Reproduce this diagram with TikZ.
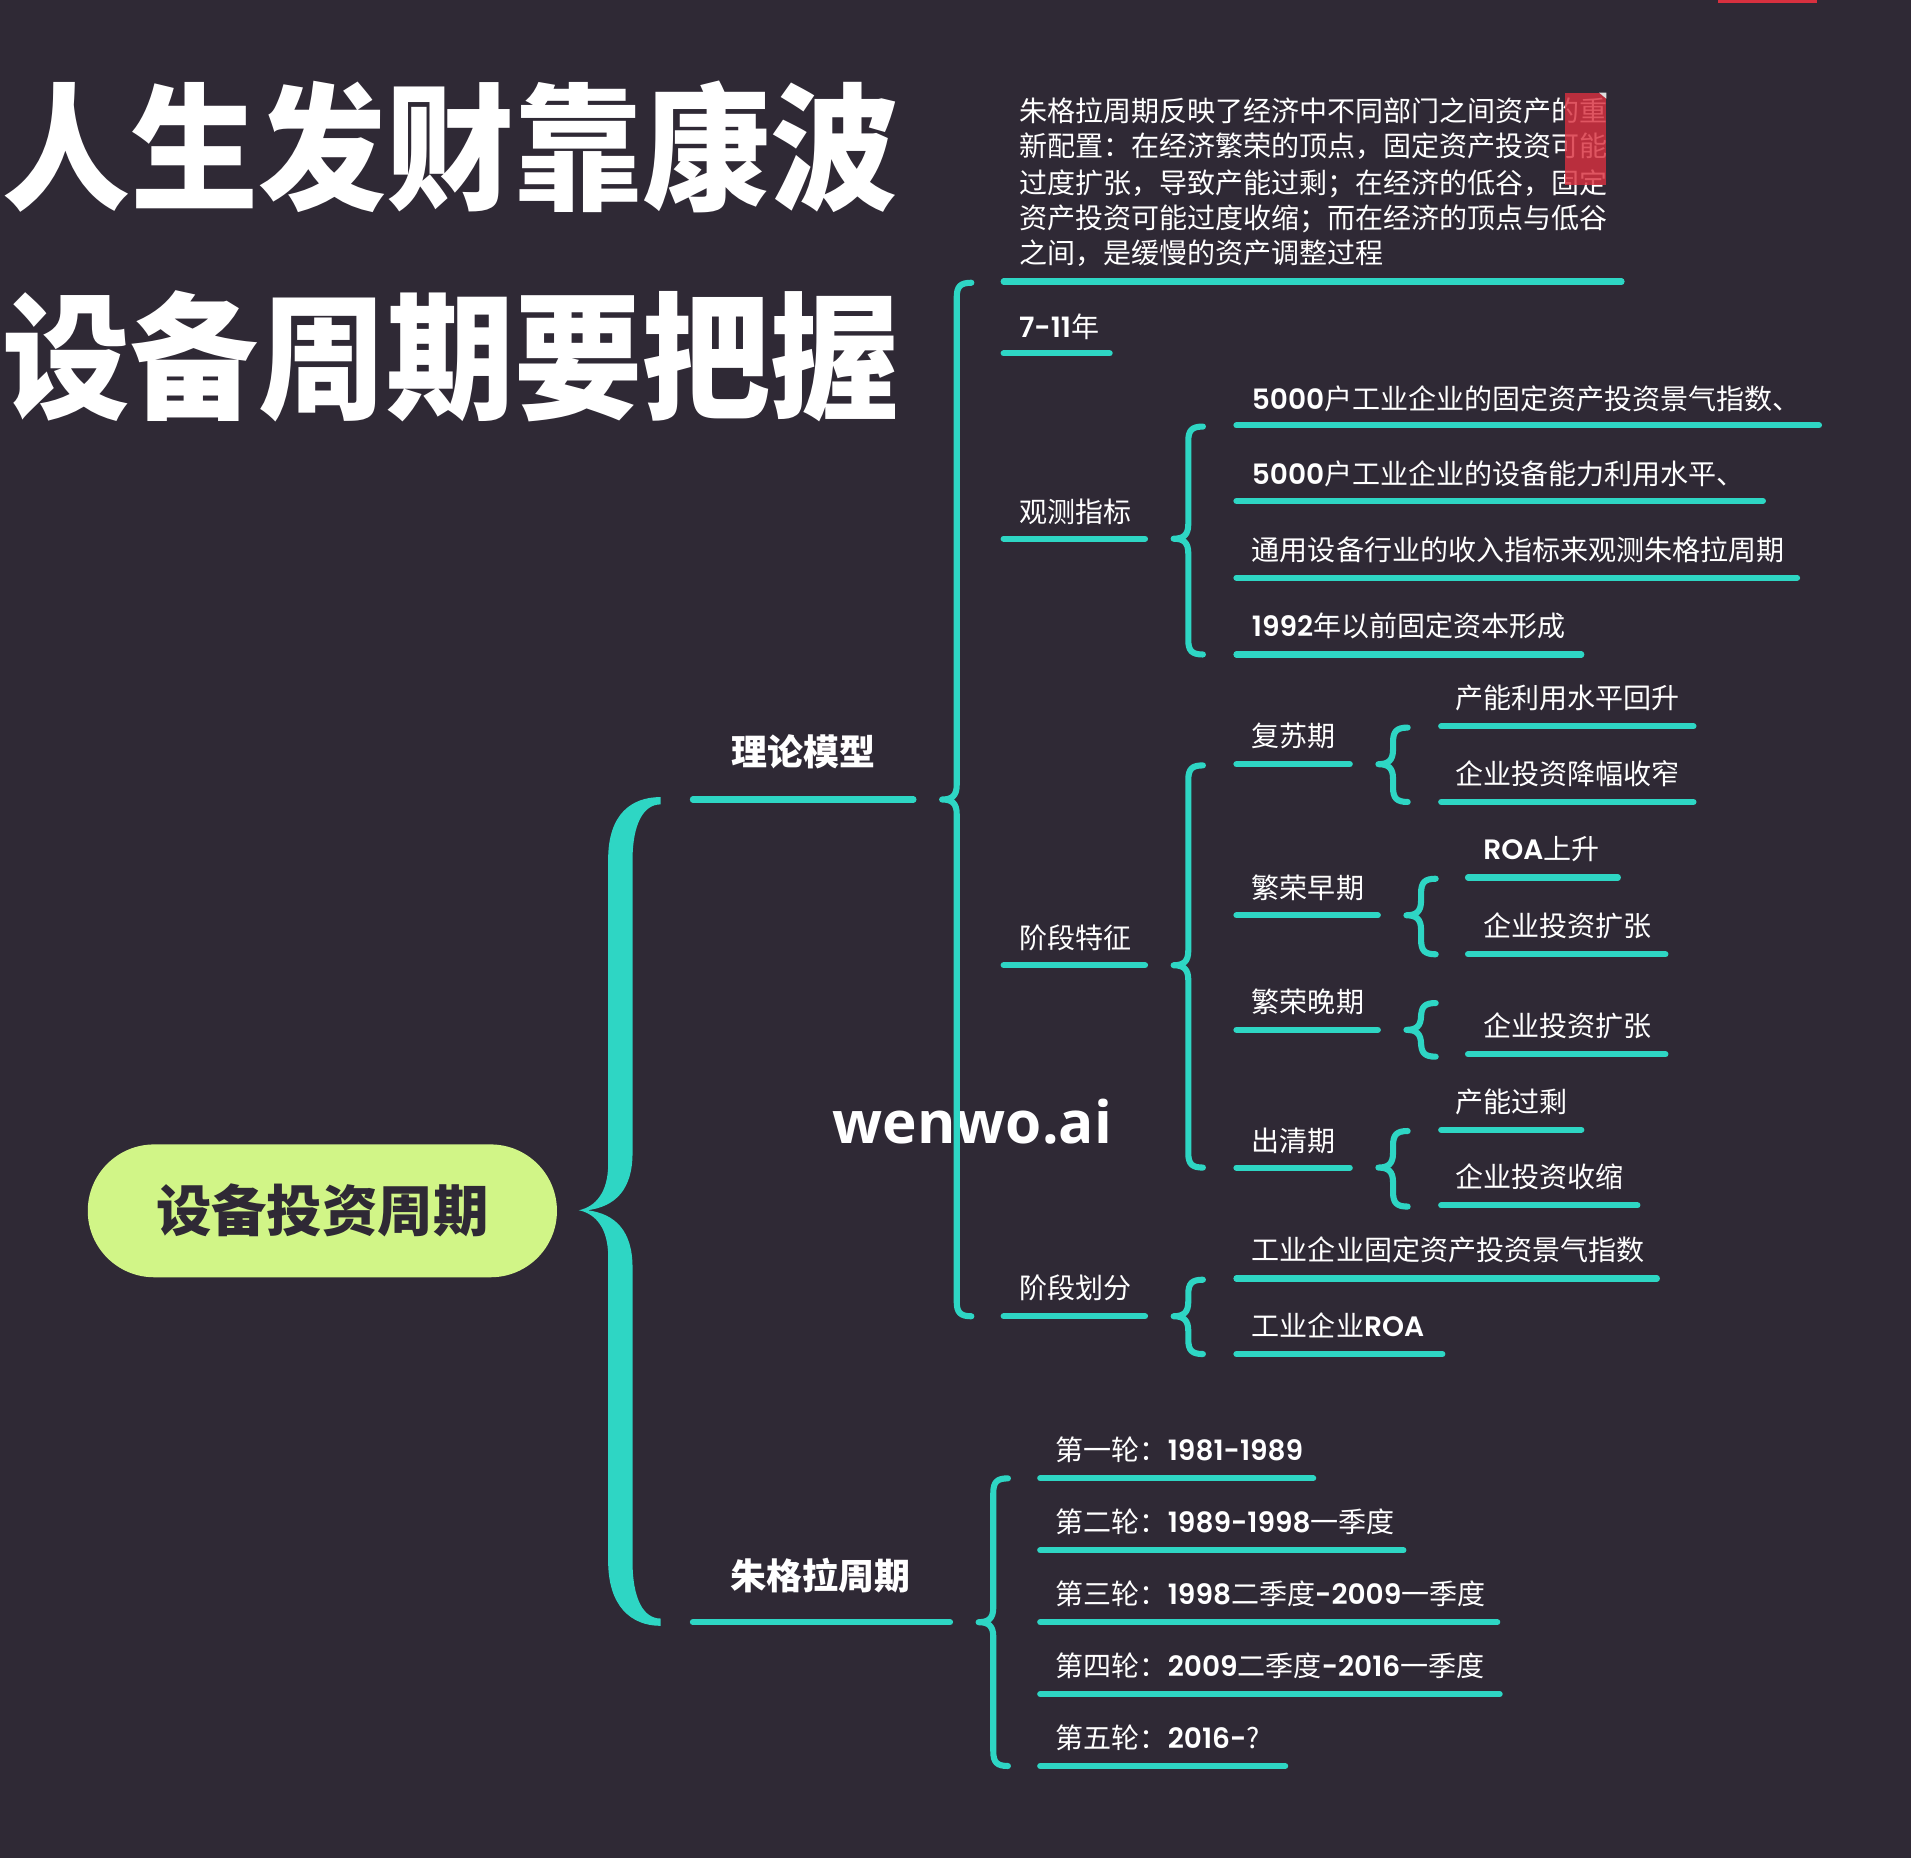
\documentclass[tikz,border=0pt]{standalone}
\usepackage{fontspec}
\usepackage{graphicx}
\setmainfont{Noto Sans CJK SC}
\newfontfamily\pop{Poppins}
\newfontfamily\osans{Open Sans}
\IfFontExistsTF{Poppins SemiBold}{%
  \newfontfamily\popsb{Poppins SemiBold}%
  \newcommand{\lat}[1]{{\popsb #1}}%
}{%
  \newcommand{\lat}[1]{{\pop\bfseries #1}}%
}
\definecolor{bg}{HTML}{2F2935}
\definecolor{tealc}{HTML}{2ED6C4}
\definecolor{pillc}{HTML}{D1F587}
\definecolor{redbox}{HTML}{D8303F}
\newcommand{\tbrace}[4]{%
  \draw[brc] (#1+12,#2) .. controls (#1+3,#2) and (#1,#2+3) .. (#1,#2+12)
    -- (#1,#3-12) .. controls (#1,#3-3) and (#1-4,#3) .. (#1-12,#3)
    .. controls (#1-4,#3) and (#1,#3+3) .. (#1,#3+12)
    -- (#1,#4-12) .. controls (#1,#4-3) and (#1+3,#4) .. (#1+12,#4);}
\newcommand{\ulin}[3]{\draw[ul] (#1+2.5,#3) -- (#2-2.5,#3);}
\tikzset{
  t/.style={inner sep=0pt, anchor=west, text=white, font=\fontsize{23}{28}\selectfont, text height=18.4pt, text depth=1.2pt},
  lone/.style={inner sep=0pt, anchor=center, text=white, font=\fontsize{29.5}{34}\selectfont\bfseries, text height=23.6pt, text depth=1.5pt},
  titl/.style={inner sep=0pt, anchor=west, text=white, font=\fontsize{105}{110}\selectfont\bfseries, text height=84pt, text depth=5.2pt},
  pill/.style={fill=pillc, rounded corners=54.5pt, minimum width=385pt, minimum height=109pt, inner sep=0pt, text=bg, font=\fontsize{45.5}{50}\selectfont\bfseries, text height=36.4pt, text depth=2.3pt},
  ul/.style={draw=tealc, line width=5pt, line cap=round},
  brc/.style={draw=tealc, line width=5pt, line cap=round, line join=round},
}
\begin{document}
\begin{tikzpicture}[x=1pt,y=-1pt]
\useasboundingbox (0,0) rectangle (1568,1523.7);
\fill[bg] (-3,-3) rectangle (1571,1527);

% title
\node[titl] (title1) at (2,124) {\scalebox{1}[1.07]{人生发财靠康波}};
\node[titl] (title2) at (2,296) {\scalebox{1}[1.07]{设备周期要把握}};

% watermark
\node[inner sep=0pt, anchor=base west, text=white, font=\osans\bfseries\fontsize{48}{50}\selectfont] (wm) at (683,938) {wenwo.ai};

% root pill
\node[pill] (root) at (264.5,993.5) {设备投资周期};

% big brace
\fill[tealc] (542,654) .. controls (518,654) and (499,668) .. (499,705)
 -- (499,955) .. controls (499,978) and (489,990) .. (475,993)
 .. controls (489,996) and (499,1008) .. (499,1031)
 -- (499,1281) .. controls (499,1318) and (518,1334) .. (542,1334)
 -- (542,1328) .. controls (528,1328) and (519,1312) .. (519,1281)
 -- (519,1040) .. controls (519,1010) and (505,996) .. (482,993)
 .. controls (505,990) and (519,976) .. (519,946)
 -- (519,706) .. controls (519,676) and (528,660) .. (542,660) -- cycle;

% level 1
\node[lone] (theory) at (659,617) {理论模型};
\ulin{566}{752}{656}
\node[lone] (juglar) at (673,1293) {朱格拉周期};
\ulin{566}{782}{1331}

% theory children
\tbrace{785}{232}{656}{1080}
\node[t] (p1) at (836,91) {朱格拉周期反映了经济中不同部门之间资产的重};
\node[t] (p2) at (836,120) {新配置：在经济繁荣的顶点，固定资产投资可能};
\node[t] (p3) at (836,150) {过度扩张，导致产能过剩；在经济的低谷，固定};
\node[t] (p4) at (836,179) {资产投资可能过度收缩；而在经济的顶点与低谷};
\node[t] (p5) at (836,208) {之间，是缓慢的资产调整过程};
\ulin{821}{1333}{231}
\node[t] (yrs) at (836,268) {\lat{7-11}年};
\ulin{821}{913}{290}
\node[t] (obs) at (836,420) {观测指标};
\ulin{821}{942}{442}
\node[t] (feat) at (836,770) {阶段特征};
\ulin{821}{942}{792}
\node[t] (div) at (836,1057) {阶段划分};
\ulin{821}{942}{1080}

% 观测指标 children
\tbrace{975}{350}{442}{537}
\node[t] (o1) at (1027,327) {\lat{5000}户工业企业的固定资产投资景气指数、};
\ulin{1012}{1495}{349}
\node[t] (o2) at (1027,389) {\lat{5000}户工业企业的设备能力利用水平、};
\ulin{1012}{1449}{411}
\node[t] (o3) at (1027,451) {通用设备行业的收入指标来观测朱格拉周期};
\ulin{1012}{1477}{474}
\node[t] (o4) at (1027,514) {\lat{1992}年以前固定资本形成};
\ulin{1012}{1300}{537}

% 阶段特征 children
\tbrace{975}{628}{792}{958}
\node[t] (f1) at (1027,604) {复苏期};
\ulin{1012}{1110}{627}
\node[t] (f2) at (1027,729) {繁荣早期};
\ulin{1012}{1133}{751}
\node[t] (f3) at (1027,822) {繁荣晚期};
\ulin{1012}{1133}{845}
\node[t] (f4) at (1027,936) {出清期};
\ulin{1012}{1110}{958}

\tbrace{1143}{597}{627}{658}
\node[t] (f1a) at (1194,573) {产能利用水平回升};
\ulin{1180}{1392}{596}
\node[t] (f1b) at (1194,635) {企业投资降幅收窄};
\ulin{1180}{1392}{658}

\tbrace{1166}{721}{751}{783}
\node[t] (f2a) at (1217,697) {\lat{ROA}上升};
\ulin{1202}{1330}{720}
\node[t] (f2b) at (1217,760) {企业投资扩张};
\ulin{1202}{1369}{783}

\tbrace{1166}{823}{845}{867}
\node[t] (f3a) at (1217,842) {企业投资扩张};
\ulin{1202}{1369}{865}

\tbrace{1143}{928}{958}{990}
\node[t] (f4a) at (1194,904) {产能过剩};
\ulin{1180}{1300}{927}
\node[t] (f4b) at (1194,966) {企业投资收缩};
\ulin{1180}{1346}{989}

% 阶段划分 children
\tbrace{975}{1050}{1080}{1111}
\node[t] (d1) at (1027,1026) {工业企业固定资产投资景气指数};
\ulin{1012}{1362}{1049}
\node[t] (d2) at (1027,1088) {工业企业\lat{ROA}};
\ulin{1012}{1186}{1111}

% 朱格拉周期 children
\tbrace{815}{1213}{1331}{1449}
\node[t] (r1) at (866,1190) {第一轮：\lat{1981-1989}};
\ulin{851}{1080}{1213}
\node[t] (r2) at (866,1249) {第二轮：\lat{1989-1998}一季度};
\ulin{851}{1154}{1272}
\node[t] (r3) at (866,1308) {第三轮：\lat{1998}二季度\lat{-2009}一季度};
\ulin{851}{1231}{1331}
\node[t] (r4) at (866,1367) {第四轮：\lat{2009}二季度\lat{-2016}一季度};
\ulin{851}{1233}{1390}
\node[t] (r5) at (866,1426) {第五轮：\lat{2016-}?};
\ulin{851}{1057}{1449}

% red marks
\fill[redbox, opacity=0.82] (1284,76) rectangle (1318,152);
\fill[white!75!gray] (1312,76) -- (1318,76) -- (1318,81) -- cycle;
\fill[redbox] (1410,0) rectangle (1491,2.3);
\end{tikzpicture}
\end{document}
